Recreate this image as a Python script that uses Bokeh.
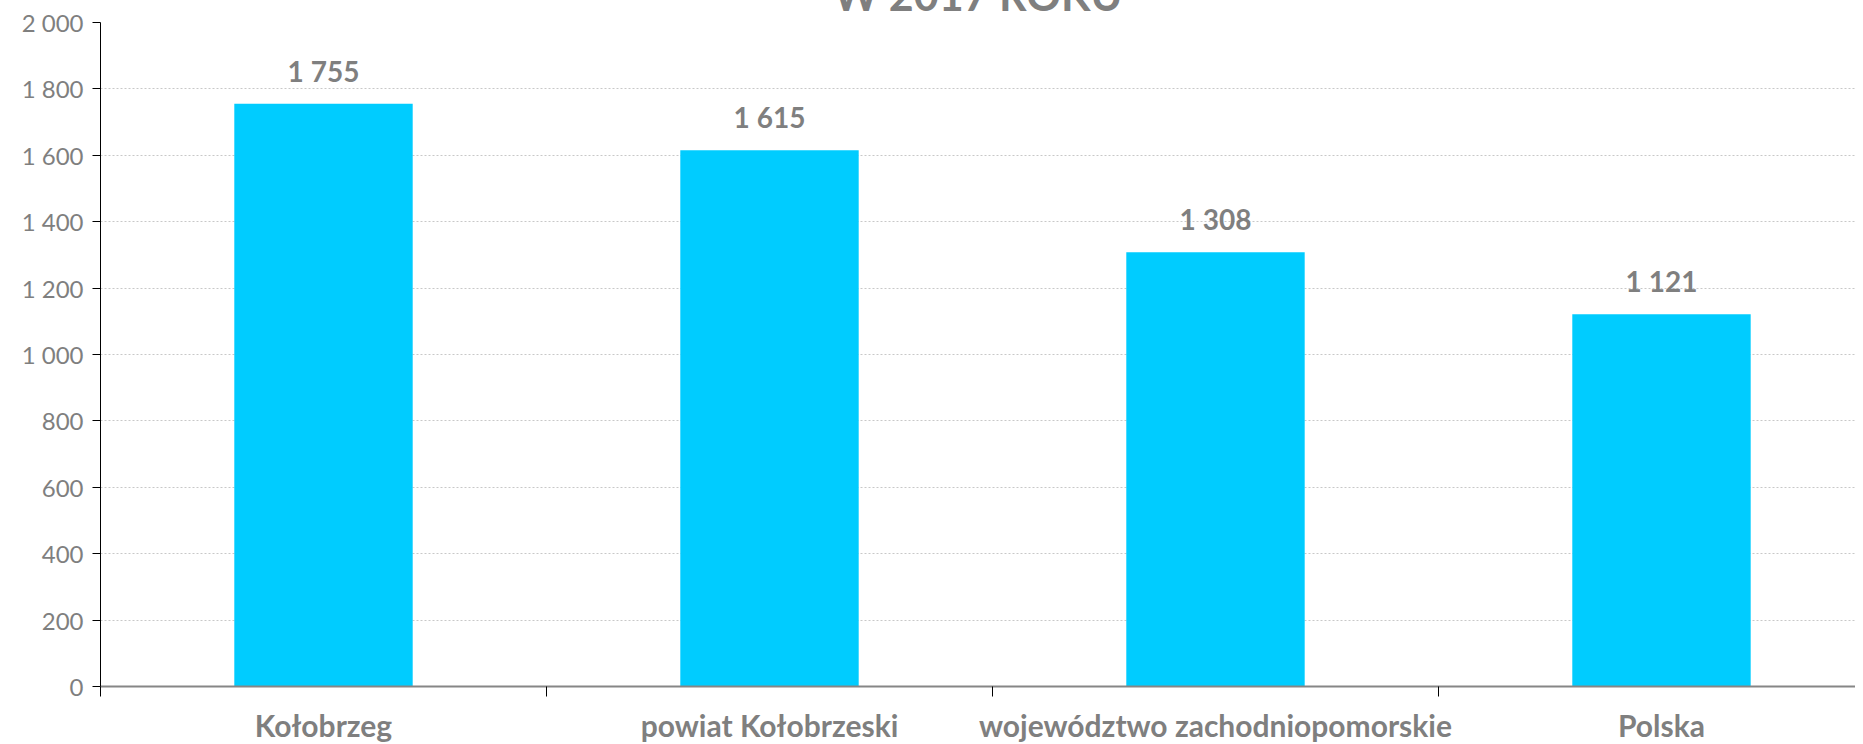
from bokeh.plotting import figure
from bokeh.models import ColumnDataSource, FixedTicker, Range1d
from bokeh.embed import file_html
from bokeh.resources import INLINE
from bokeh.core.properties import value

# ---- data ----
categories = ["Kołobrzeg", "powiat Kołobrzeski", "województwo zachodniopomorskie", "Polska"]
values = [1755, 1615, 1308, 1121]
y_ticks = [0, 200, 400, 600, 800, 1000, 1200, 1400, 1600, 1800, 2000]
title_text = "W 2017 ROKU"

# ---- derived ----
def fmt(v):
    return f"{v:,}".replace(",", " ")

positions = [i + 0.5 for i in range(len(categories))]
boundaries = list(range(len(categories) + 1))
labels = [fmt(v) for v in values]

src = ColumnDataSource(dict(x=positions, top=values, label=labels))

GRAY = "#7f7f7f"
FONT = "Lato"

p = figure(width=1855, height=814, output_backend="svg", toolbar_location=None,
           x_range=Range1d(0, 3.935), y_range=Range1d(0, 2000),
           min_border_left=100, min_border_right=0, min_border_top=80, min_border_bottom=70)
p.margin = (-58, 0, -32, 0)

p.title.text = title_text
p.title.align = "center"
p.title.text_font = FONT
p.title.text_font_size = "43px"
p.title.text_font_style = "bold"
p.title.text_color = GRAY
p.title.standoff = 6

p.outline_line_color = None
p.background_fill_color = "white"
p.border_fill_color = "white"

p.vbar(x="x", top="top", bottom=0, width=0.4, source=src,
       fill_color="#00CCFF", line_color=None)

p.text(x="x", y="top", text="label", source=src, text_align="center",
       text_baseline="alphabetic", y_offset=-33, text_font=value(FONT),
       text_font_style="bold", text_font_size="28px", text_color=GRAY)

# x axis
xa = p.xaxis[0]
xa.ticker = FixedTicker(ticks=positions, minor_ticks=boundaries)
xa.major_label_overrides = {pos: c for pos, c in zip(positions, categories)}
xa.major_tick_out = 0
xa.major_tick_in = 0
xa.minor_tick_out = 10
xa.minor_tick_in = 0
xa.minor_tick_line_color = "black"
xa.axis_line_color = "#868686"
xa.axis_line_width = 2
xa.major_label_text_font = FONT
xa.major_label_text_font_size = "30px"
xa.major_label_text_font_style = "bold"
xa.major_label_text_color = GRAY
xa.major_label_standoff = 10

# y axis
ya = p.yaxis[0]
ya.ticker = FixedTicker(ticks=y_ticks)
ya.major_label_overrides = {t: fmt(t) for t in y_ticks}
ya.major_tick_out = 8
ya.major_tick_in = 0
ya.minor_tick_out = 0
ya.minor_tick_in = 0
ya.major_tick_line_color = "black"
ya.axis_line_color = "black"
ya.major_label_text_font = FONT
ya.major_label_text_font_size = "24px"
ya.major_label_text_color = GRAY
ya.major_label_standoff = 9

p.xgrid.visible = False
p.ygrid.grid_line_color = "#c8c8c8"
p.ygrid.grid_line_dash = "2 2"
p.ygrid.grid_line_width = 1

open("out.html", "w").write(file_html(p, INLINE))
